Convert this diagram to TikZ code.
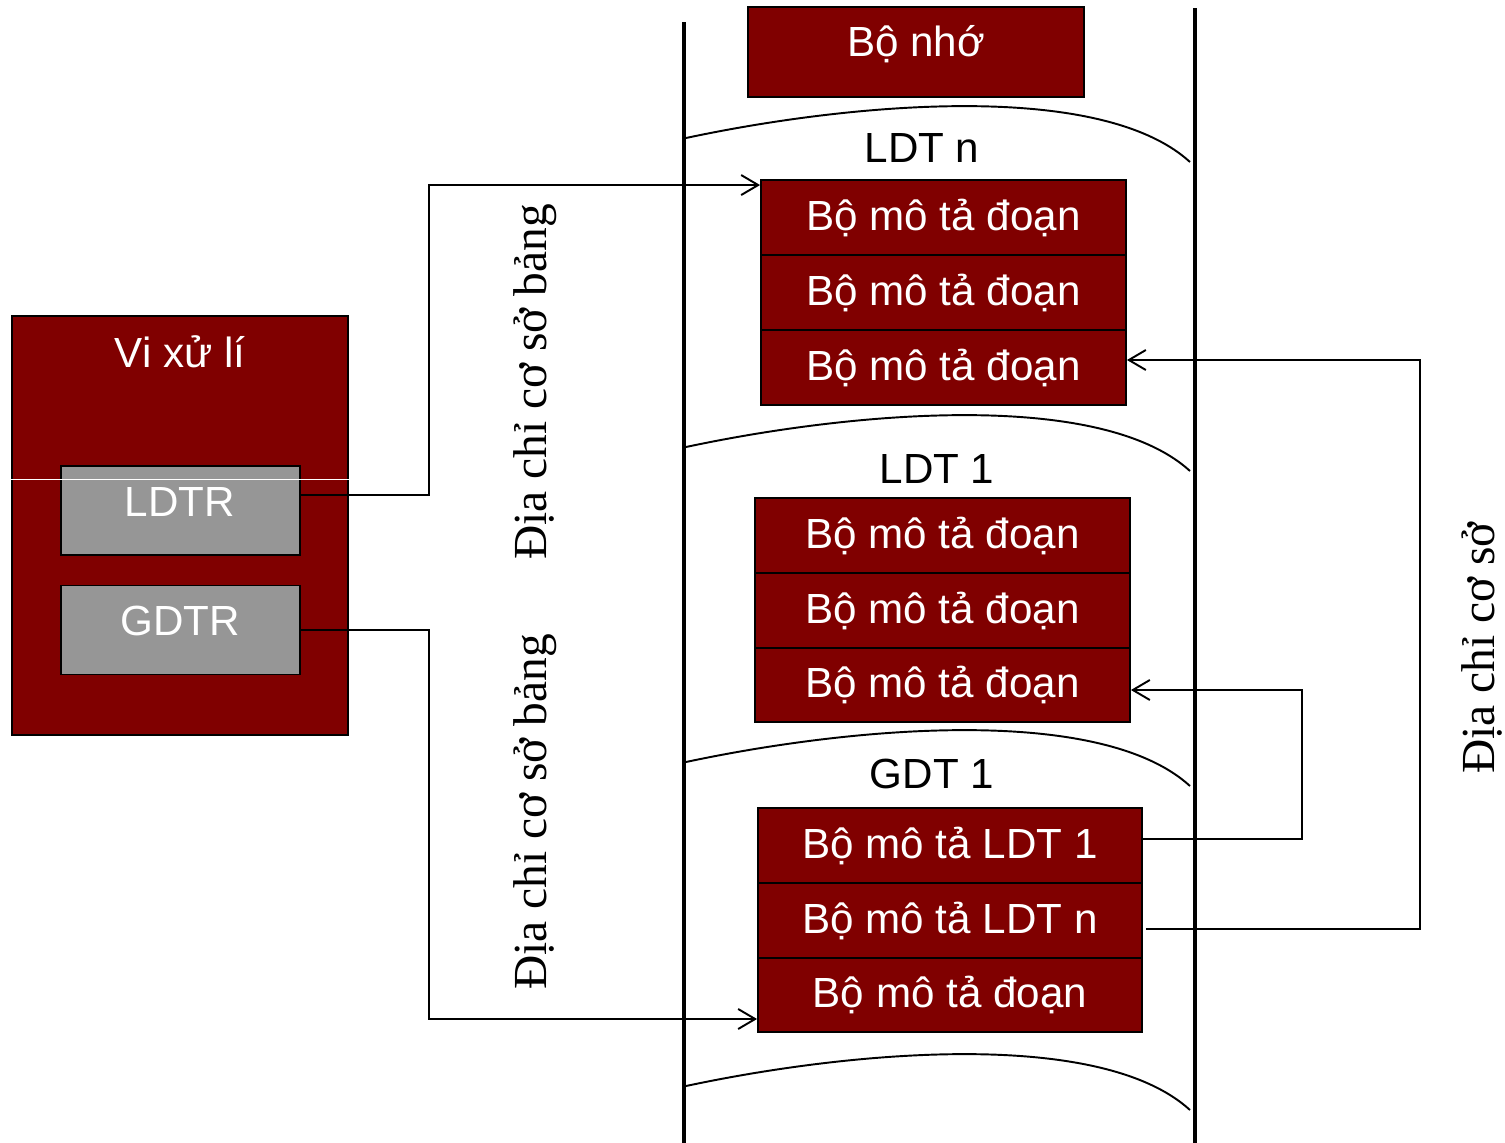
\documentclass[tikz,border=0pt]{standalone}
\usepackage{fontspec}
\setmainfont{Liberation Serif}
\setsansfont{Liberation Sans}
\usetikzlibrary{arrows.meta}
\definecolor{dred}{HTML}{800000}
\definecolor{rgray}{HTML}{969696}
\begin{document}
\begin{tikzpicture}[x=0.02cm,y=-0.02cm,
  sfont/.style={font=\sffamily\fontsize{24}{28}\selectfont},
  rfont/.style={font=\rmfamily\fontsize{27}{32}\selectfont},
  redbox/.style={draw=black, line width=1.1pt, fill=dred, text=white, sfont, inner sep=0pt},
  graybox/.style={draw=black, line width=1.1pt, fill=rgray, inner sep=0pt, minimum width=4.78cm, minimum height=1.78cm},
  whitetext/.style={sfont, text=white, inner sep=0pt},
  blacktext/.style={sfont, text=black, inner sep=0pt},
  vlabel/.style={rfont, rotate=90, anchor=base, inner sep=0pt},
  memline/.style={line width=2.3pt},
  arcline/.style={line width=1.1pt},
  conn/.style={draw, line width=1.1pt, -{Straight Barb[length=0.34cm,width=0.4cm]}},
  rowA/.style={redbox, minimum width=7.3cm, minimum height=1.5cm},
  rowB/.style={redbox, minimum width=7.5cm, minimum height=1.495cm},
  rowC/.style={redbox, minimum width=7.68cm, minimum height=1.495cm}]
\useasboundingbox (0,0) rectangle (1505,1143);

% memory column lines
\draw[memline] (684,22) -- (684,1143);
\draw[memline] (1195,8) -- (1195,1143);

% arcs
\foreach \L in {138,447,762,1086}{
  \draw[arcline] (686,\L) .. controls (850,\L-35) and (1100,\L-58) .. (1190,\L+24);
}

% memory title
\node[redbox, minimum width=6.72cm, minimum height=1.8cm] (mem) at (916,52) {};
\node[whitetext] (memt) at (916,44) {Bộ nhớ};

% table labels
\node[blacktext] (ldtn) at (922,148) {LDT n};
\node[blacktext] (ldt1) at (937,469) {LDT 1};
\node[blacktext] (gdt1) at (932,774) {GDT 1};

% LDT n rows
\node[rowA] (d1) at (943.5,217.5) {Bộ mô tả đoạn};
\node[rowA] (d2) at (943.5,292.5) {Bộ mô tả đoạn};
\node[rowA] (d3) at (943.5,367.5) {Bộ mô tả đoạn};

% LDT 1 rows
\node[rowB] (l1) at (942.5,535.5) {Bộ mô tả đoạn};
\node[rowB] (l2) at (942.5,610.5) {Bộ mô tả đoạn};
\node[rowB] (l3) at (942.5,685) {Bộ mô tả đoạn};

% GDT 1 rows
\node[rowC] (g1) at (950,845.5) {Bộ mô tả LDT 1};
\node[rowC] (g2) at (950,920.5) {Bộ mô tả LDT n};
\node[rowC] (g3) at (950,995) {Bộ mô tả đoạn};

% processor
\node[redbox, minimum width=6.72cm, minimum height=8.38cm] (cpu) at (180,525.5) {};
\node[whitetext] (cput) at (180,352) {Vi xử lí};
\node[graybox] (ldtr) at (180.5,510.5) {};
\node[whitetext] (ldtrt) at (180,502) {LDTR};
\node[graybox] (gdtr) at (180.5,630) {};
\node[whitetext] (gdtrt) at (180,621) {GDTR};
\draw[white, line width=0.5pt] (cpu.west |- 0,479) -- (cpu.east |- 0,479);

% connectors
\draw[conn] ([yshift=0.31cm]ldtr.east) -- ++(128,0) |- ([yshift=-0.12cm]d1.west |- d1.north);
\draw[conn] (gdtr.east) -- ++(128,0) |- ([yshift=-0.48cm]g3.west);
\draw[conn] ([yshift=0.13cm]g1.east) -- ++(159,0) |- ([yshift=-0.1cm]l3.east);
\draw[conn] ([xshift=0.06cm,yshift=-0.17cm]g2.east) -- ++(274,0) |- ([yshift=0.15cm]d3.east);

% vertical labels
\node[vlabel] (lab1) at (546,382) {Địa chỉ cơ sở bảng};
\node[vlabel] (lab2) at (546,812) {Địa chỉ cơ sở bảng};
\node[vlabel] (lab3) at (1494,648) {Địa chỉ cơ sở};
\end{tikzpicture}
\end{document}
